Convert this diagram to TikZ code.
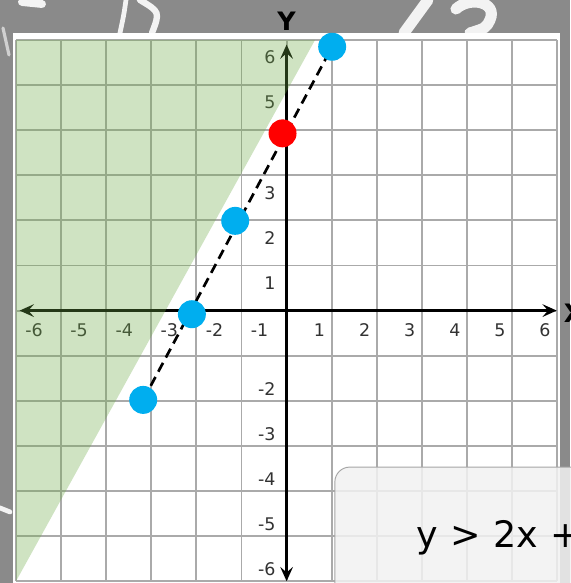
\documentclass[tikz,border=0pt]{standalone}
\usepackage{fontspec}
\setmainfont{DejaVu Sans}
\usetikzlibrary{arrows.meta, positioning}
\definecolor{pizarra}{RGB}{138,138,138}
\definecolor{verde}{RGB}{110,170,70}
\definecolor{azul}{RGB}{0,174,239}
\definecolor{rejilla}{RGB}{170,170,170}
\definecolor{texto}{RGB}{50,50,50}

\begin{document}
\begin{tikzpicture}[
  punto/.style={circle, inner sep=0pt, minimum size=0.62cm},
  eje/.style={line width=1.9pt, {Stealth[length=9pt,width=8pt,inset=3.5pt]}-{Stealth[length=9pt,width=8pt,inset=3.5pt]}},
  marca/.style={text=texto, inner sep=0pt, font=\fontsize{11}{13}\selectfont},
  tiza/.style={white, line cap=round, line width=5pt, opacity=0.9}]
\useasboundingbox (-6.355,-6.04) rectangle (6.284,6.887);

% fondo de pizarra
\fill[pizarra] (-6.355,-6.04) rectangle (6.284,6.887);
\begin{scope}[shift={(-6.355,6.887)}, x=0.02217cm, y=-0.02217cm]
\draw[tiza] (22,2) -- (42,4);
\draw[tiza, line width=3pt] (126,0) .. controls (124,14) .. (120,33);
\draw[tiza, line width=4pt] (140,0) .. controls (160,12) .. (152,33);
\draw[tiza, line width=7pt] (404,33) -- (428,0);
\draw[tiza, line width=7pt] (456,9) .. controls (470,-4) and (498,2) .. (490,20) .. controls (486,28) .. (470,33);
\draw[tiza, line width=2pt, opacity=0.6] (3,28) -- (9,55);
\draw[tiza, line width=3pt] (0,508) -- (10,512);
\end{scope}

% hoja blanca
\fill[white] (-6.07,-6.2) rectangle (6.06,6.155);

% rejilla
\draw[rejilla, line width=1.2pt] (-6,-6) grid (6,6);

% ejes
\draw[eje] (-5.92,0) -- (5.99,0);
\draw[eje] (0,-6) -- (0,5.9);
\node[font=\bfseries\fontsize{16}{18}\selectfont] (ejey) at (0,6.42) {Y};
\node[font=\bfseries\fontsize{16}{18}\selectfont, anchor=west, inner sep=0pt] (ejex) at (6.14,-0.05) {X};

% numeros
\foreach \i in {1,...,6} {
  \node[marca] (xp\i) at (\i-0.27,-0.43) {\i};
  \node[marca] (xn\i) at (-\i+0.4,-0.43) {-\i};
}
\foreach \i in {1,2,3,5,6}
  \node[marca, anchor=east] (yp\i) at (-0.24,\i-0.39) {\i};
\foreach \i in {2,...,6}
  \node[marca, anchor=east] (yn\i) at (-0.24,-\i+0.27) {-\i};

% region sombreada
\fill[verde, opacity=0.33] (-6,-6) -- (-6,6) -- (0.63,6) -- cycle;

% recta y puntos
\coordinate (pA) at (-3.18,-1.98);
\coordinate (pB) at (-2.10,-0.08);
\coordinate (pC) at (-1.14,1.99);
\coordinate (pD) at (-0.09,3.93);
\coordinate (pE) at (1.01,5.85);
\draw[line width=1.7pt, dash pattern=on 6.3pt off 3.8pt] (pA) -- (pE);
\foreach \p in {pA,pB,pC,pE}
  \node[punto, fill=azul] at (\p) {};
\node[punto, fill=red] (corte) at (pD) {};

% recuadro de la inecuacion
\draw[gray!70, line width=0.6pt, fill=black!5, fill opacity=0.85, rounded corners=0.33cm]
  (1.07,-6.6) rectangle (6.7,-3.47);
\node[anchor=west, inner sep=0pt, font=\fontsize{23}{27}\selectfont] (ineq) at (2.88,-5.04) {y\,\,>\,\,2x\,\,+};
\end{tikzpicture}
\end{document}
